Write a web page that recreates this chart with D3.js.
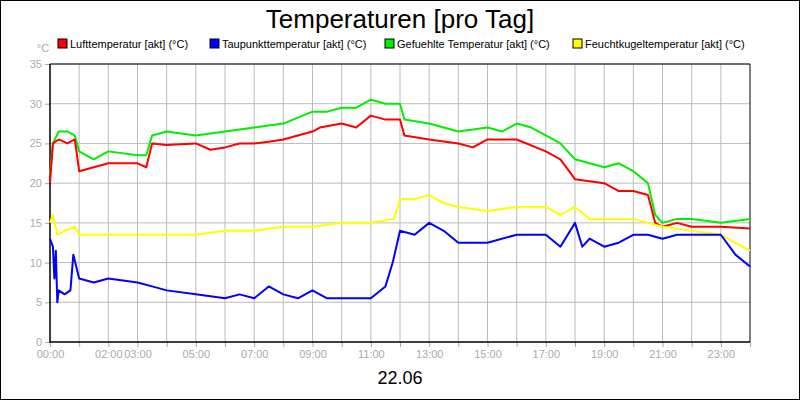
<!DOCTYPE html>
<html><head><meta charset="utf-8">
<script src="https://cdn.jsdelivr.net/npm/d3@7"></script>
<style>body{margin:0;background:#fff}svg{display:block;font-family:"Liberation Sans",Arial,sans-serif}</style>
</head><body><svg id="c" width="800" height="400"></svg>
<script>
// Data (hours, °C)
const redT = [0,0.1,0.3,0.6,0.85,1,1.5,2,3,3.3,3.5,4,5,5.5,6,6.5,7,7.5,8,8.5,9,9.25,10,10.5,11,11.5,12,12.15,13,14,14.5,15,16,17,17.5,18,19,19.5,20,20.5,20.75,21,21.5,22,23,24];
const redV = [20,25,25.5,25,25.5,21.5,22,22.5,22.5,22,25,24.8,25,24.2,24.5,25,25,25.2,25.5,26,26.5,27,27.5,27,28.5,28,28,26,25.5,25,24.5,25.5,25.5,24,23,20.5,20,19,19,18.5,15,14.5,15,14.5,14.5,14.3];
const greenT = [0,0.1,0.3,0.6,0.85,1,1.5,2,3,3.3,3.5,4,5,6,7,8,9,9.5,10,10.5,11,11.5,12,12.15,13,14,15,15.5,16,16.5,17,17.5,18,19,19.5,20,20.5,20.75,21,21.5,22,23,24];
const greenV = [21,25,26.5,26.5,26,24,23,24,23.5,23.5,26,26.5,26,26.5,27,27.5,29,29,29.5,29.5,30.5,30,30,28,27.5,26.5,27,26.5,27.5,27,26,25,23,22,22.5,21.5,20,16,15,15.5,15.5,15,15.5];
const yellowT = [0,0.1,0.25,0.5,0.85,1,2,3,4,5,6,7,8,9,10,11,11.8,12,12.5,13,13.5,14,15,16,17,17.5,18,18.5,19,20,20.5,21,22,23,24];
const yellowV = [15,16,13.5,14,14.5,13.5,13.5,13.5,13.5,13.5,14,14,14.5,14.5,15,15,15.5,18,18,18.5,17.5,17,16.5,17,17,16,17,15.5,15.5,15.5,15,14.5,14,13.5,11.5];
const blueT = [0,0.1,0.15,0.2,0.25,0.3,0.5,0.7,0.8,1,1.5,2,3,3.5,4,5,6,6.5,7,7.5,8,8.5,9,9.5,10,10.5,11,11.5,11.75,12,12.5,13,13.5,14,15,16,17,17.5,18,18.25,18.5,19,19.5,20,20.5,21,21.5,22,23,23.5,24];
const blueV = [13,12,8,11.5,5,6.5,6,6.5,11,8,7.5,8,7.5,7,6.5,6,5.5,6,5.5,7,6,5.5,6.5,5.5,5.5,5.5,5.5,7,10,14,13.5,15,14,12.5,12.5,13.5,13.5,12,15,12,13,12,12.5,13.5,13.5,13,13.5,13.5,13.5,11,9.5];
const seriesNames = ["Lufttemperatur [akt] (°C)","Taupunkttemperatur [akt] (°C)","Gefuehlte Temperatur [akt] (°C)","Feuchtkugeltemperatur [akt] (°C)"];
const seriesColors = ["#ff0000","#0000ff","#00ee00","#ffff00"];
const tickLabels = ["00:00","02:00","03:00","05:00","07:00","09:00","11:00","13:00","15:00","17:00","19:00","21:00","23:00"];
const tickHours = [0,2,3,5,7,9,11,13,15,17,19,21,23];

const svg = d3.select("#c");
const m = {left:50, right:750, top:64, bottom:342};
const x = d3.scaleLinear().domain([0,24]).range([m.left,m.right]);
const y = d3.scaleLinear().domain([0,35]).range([m.bottom,m.top]);

svg.append("rect").attr("x",0.5).attr("y",0.5).attr("width",799).attr("height",399).attr("fill","#fff").attr("stroke","#000");

// grid
svg.append("g").selectAll("line").data(d3.range(1,24)).join("line")
  .attr("x1",d=>x(d)).attr("x2",d=>x(d)).attr("y1",m.top).attr("y2",m.bottom).attr("stroke","#bbb");
svg.append("g").selectAll("line").data(d3.range(5,36,5)).join("line")
  .attr("x1",m.left).attr("x2",m.right).attr("y1",d=>y(d)).attr("y2",d=>y(d)).attr("stroke","#bbb");

// axes
const gx = svg.append("g").attr("transform",`translate(0,${m.bottom})`)
  .call(d3.axisBottom(x).tickValues(d3.range(0,25)).tickSize(5).tickFormat(d=>{const i=tickHours.indexOf(d);return i<0?"":tickLabels[i];}));
const gy = svg.append("g").attr("transform",`translate(${m.left},0)`)
  .call(d3.axisLeft(y).tickValues(d3.range(0,36,5)).tickSize(5));
[gx,gy].forEach(g=>{g.select(".domain").remove();g.selectAll("line").attr("stroke","#aaa");g.selectAll("text").attr("fill","#aaa").style("font-size","11px").style("font-family","Liberation Sans, Arial");});
svg.append("path").attr("d",`M${m.left},${m.top}V${m.bottom}H${m.right}`).attr("fill","none").attr("stroke","#000").attr("stroke-width",1.5);
svg.append("line").attr("x1",m.right).attr("x2",m.right).attr("y1",m.top).attr("y2",m.bottom).attr("stroke","#000");
svg.append("line").attr("x1",m.left).attr("x2",m.right).attr("y1",m.top).attr("y2",m.top).attr("stroke","#000");
svg.append("text").attr("x",43).attr("y",52).attr("text-anchor","middle").attr("fill","#aaa").style("font-size","11px").text("°C");

// lines
const line = d3.line().x(d=>x(d[0])).y(d=>y(d[1]));
const data = [[greenT,greenV,2],[redT,redV,0],[yellowT,yellowV,3],[blueT,blueV,1]];
data.forEach(([t,v,i])=>{
  svg.append("path").datum(d3.zip(t,v)).attr("d",line).attr("fill","none")
    .attr("stroke",seriesColors[i]).attr("stroke-width",2).attr("stroke-linejoin","round");
});

// legend
const lx = [58,210,385,573];
seriesNames.forEach((n,i)=>{
  svg.append("rect").attr("x",lx[i]).attr("y",39).attr("width",9).attr("height",9).attr("fill",seriesColors[i]).attr("stroke","#000");
  svg.append("text").attr("x",lx[i]+12).attr("y",48).style("font-size","11px").text(n);
});

svg.append("text").attr("x",400).attr("y",28).attr("text-anchor","middle").style("font-size","26px").text("Temperaturen [pro Tag]");
svg.append("text").attr("x",400).attr("y",384).attr("text-anchor","middle").style("font-size","18px").text("22.06");
</script></body></html>
